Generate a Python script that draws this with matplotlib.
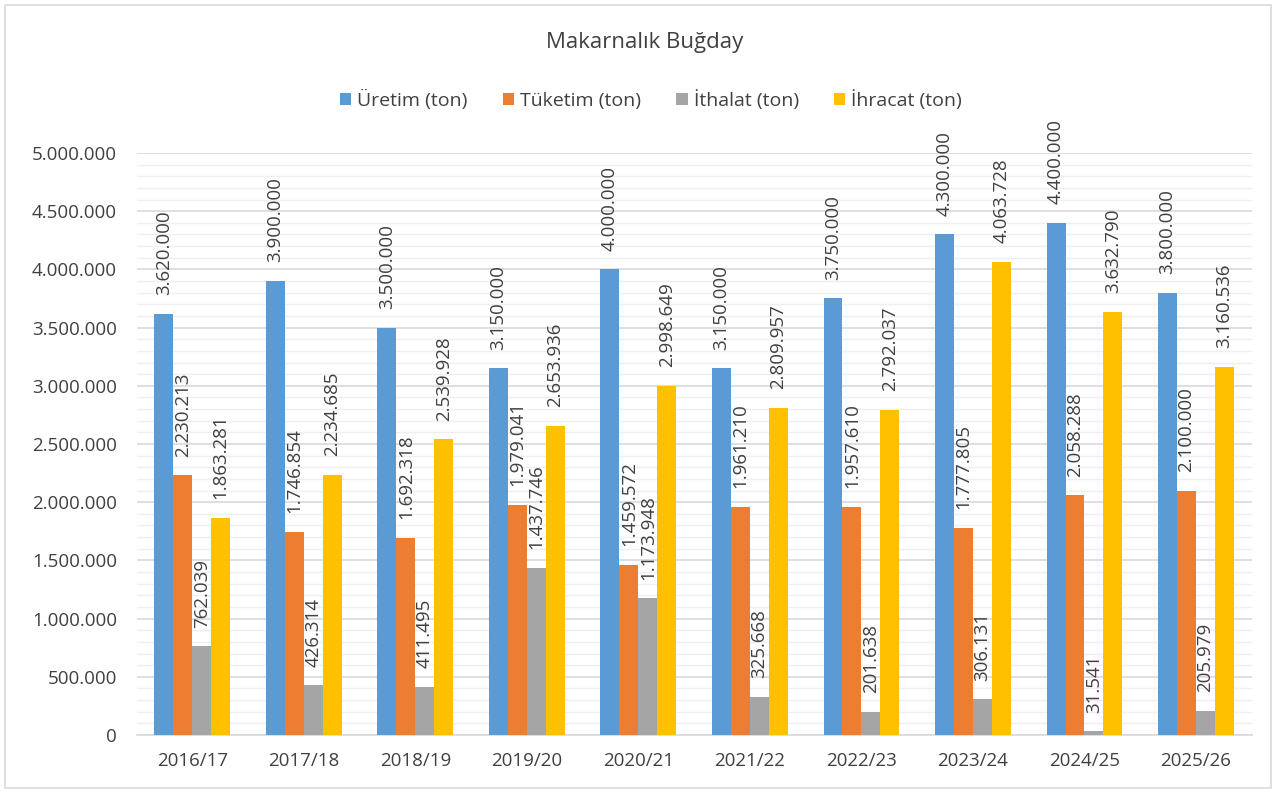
import numpy as np
import matplotlib.pyplot as plt
from matplotlib.ticker import FuncFormatter, MultipleLocator
from matplotlib.patches import Rectangle

plt.rcParams['font.family'] = ['Open Sans', 'DejaVu Sans']

# Data
seasons = ["2016/17", "2017/18", "2018/19", "2019/20", "2020/21",
           "2021/22", "2022/23", "2023/24", "2024/25", "2025/26"]
uretim = [3620000, 3900000, 3500000, 3150000, 4000000,
          3150000, 3750000, 4300000, 4400000, 3800000]
tuketim = [2230213, 1746854, 1692318, 1979041, 1459572,
           1961210, 1957610, 1777805, 2058288, 2100000]
ithalat = [762039, 426314, 411495, 1437746, 1173948,
           325668, 201638, 306131, 31541, 205979]
ihracat = [1863281, 2234685, 2539928, 2653936, 2998649,
           2809957, 2792037, 4063728, 3632790, 3160536]

series_names = ["Üretim (ton)", "Tüketim (ton)", "İthalat (ton)", "İhracat (ton)"]
colors = ["#5B9BD5", "#ED7D31", "#A5A5A5", "#FFC000"]
text_color = "#404040"


def tr_format(v, pos=None):
    return f"{int(round(v)):,}".replace(",", ".")


fig = plt.figure(figsize=(12.76, 7.93), dpi=100)
ax = fig.add_axes([0.107, 0.0731, 0.874, 0.734])

x = np.arange(len(seasons))
width = 0.17
all_series = [uretim, tuketim, ithalat, ihracat]

for i, (vals, name, col) in enumerate(zip(all_series, series_names, colors)):
    pos = x + (i - 1.5) * width
    ax.bar(pos, vals, width=width, color=col, label=name, zorder=3)
    for px, v in zip(pos, vals):
        ax.annotate(tr_format(v), (px, v), xytext=(0, 13.5), textcoords="offset points",
                    rotation=90, ha="center", va="bottom", fontsize=13.5,
                    color=text_color, annotation_clip=False, zorder=4)

ax.set_xlim(-0.5, len(seasons) - 0.5)
ax.set_ylim(0, 5000000)
ax.yaxis.set_major_locator(MultipleLocator(500000))
ax.yaxis.set_minor_locator(MultipleLocator(100000))
ax.yaxis.set_major_formatter(FuncFormatter(tr_format))
ax.set_xticks(x)
ax.set_xticklabels(seasons)

ax.grid(axis="y", which="major", color="#D9D9D9", linewidth=1.2, zorder=0)
ax.grid(axis="y", which="minor", color="#EFEFEF", linewidth=1.0, zorder=0)
for s in ["top", "right", "left"]:
    ax.spines[s].set_visible(False)
ax.spines["bottom"].set_color("#D9D9D9")
ax.spines["bottom"].set_linewidth(1.2)
ax.tick_params(axis="both", which="both", length=0, labelsize=13.5, colors=text_color)
ax.tick_params(axis="x", pad=12)
ax.tick_params(axis="y", pad=14)

fig.text(0.505, 0.947, "Makarnalık Buğday", ha="center", va="center",
         fontsize=16, color=text_color)
fig.legend(loc="center", bbox_to_anchor=(0.51, 0.874), ncol=4, frameon=False,
           fontsize=14, handlelength=0.6, handleheight=0.6, handletextpad=0.3,
           columnspacing=1.8, labelcolor=text_color)

fig.patches.append(Rectangle((0.004, 0.006), 0.992, 0.988, transform=fig.transFigure,
                             fill=False, edgecolor="#D9D9D9", linewidth=1.2))

fig.savefig("out.png", dpi=100, facecolor="white")
